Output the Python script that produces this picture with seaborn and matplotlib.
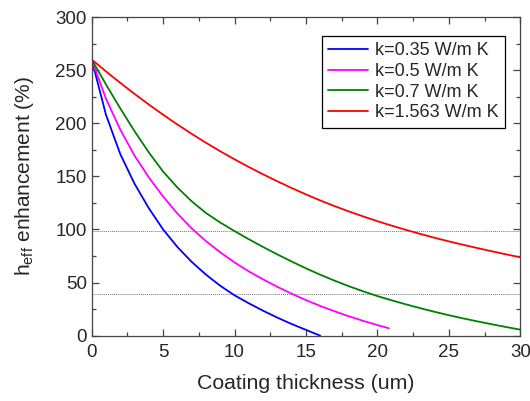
import matplotlib
matplotlib.use('Agg')
import matplotlib.pyplot as plt
import numpy as np
import pandas as pd
import seaborn as sns

# values
x_blue = [0, 1, 2, 3, 4, 5, 6, 7, 8, 9, 10, 11, 12, 13, 14, 15, 16]
y_blue = [260, 208, 171, 143, 120, 100, 83.5, 69.5, 57.5, 47, 38, 30.5, 23.5, 17, 11, 5.5, 0]

x_mag = [0, 1, 2, 3, 4, 5, 6, 7, 8, 9, 10, 11, 12, 13, 14, 15, 16, 17, 18, 19, 20, 20.8]
y_mag = [260, 223, 194, 169.5, 149, 131, 115, 101, 89, 78.5, 69, 60.5, 53, 46, 39.5, 33.5,
         28, 23, 18.3, 14, 10, 7]

x_grn = list(range(0, 31))
y_grn = [260, 236.5, 214, 192.5, 172.5, 154.5, 139.5, 126.5, 115.5, 106.5, 98.5, 90.8, 83.5,
         76.5, 69.8, 63.4, 57.4, 51.8, 46.6, 41.8, 37.3, 33.3, 29.5, 25.9, 22.5, 19.3,
         16.3, 13.5, 10.8, 8.2, 5.7]

x_red = list(range(0, 31))
y_red = [260, 248.8, 238, 227.6, 217.6, 208, 198.8, 190, 181.6, 173.6, 166, 158.8, 151.9,
         145.3, 139, 133, 127.3, 122, 117, 112.3, 107.8, 103.6, 99.6, 95.8, 92.2, 88.8,
         85.6, 82.5, 79.5, 76.6, 73.8]

labels = ['k=0.35 W/m K', 'k=0.5 W/m K', 'k=0.7 W/m K', 'k=1.563 W/m K']
colors = ['#0000ff', '#ff00ff', '#008000', '#ff0000']
ref_lines = [99, 39]

sns.set_style('ticks')
plt.rcParams['font.family'] = ['Liberation Sans', 'DejaVu Sans']
plt.rcParams['mathtext.fontset'] = 'custom'
plt.rcParams['mathtext.rm'] = 'Liberation Sans'

fig = plt.figure(figsize=(5.3, 4.01), dpi=100)
ax = fig.add_axes([0.173, 0.1628, 0.8087, 0.7948])

series = [(x_blue, y_blue), (x_mag, y_mag), (x_grn, y_grn), (x_red, y_red)]
for (xs, ys), lab, c in zip(series, labels, colors):
    d = pd.DataFrame({'x': xs, 'y': ys})
    sns.lineplot(data=d, x='x', y='y', color=c, label=lab, lw=1.3, ax=ax)

for yv in ref_lines:
    ax.axhline(yv, color='#777777', ls=(0, (1, 1)), lw=0.7, zorder=0)

ax.set_xlim(0, 30)
ax.set_ylim(0, 300)
ax.set_xticks([0, 5, 10, 15, 20, 25, 30])
ax.set_yticks([0, 50, 100, 150, 200, 250, 300])
ax.set_xticks(np.arange(2.5, 30, 5), minor=True)
ax.set_yticks(np.arange(25, 300, 50), minor=True)
ax.tick_params(which='both', direction='in', top=True, right=True,
               color='#444444', labelsize=13.5)
ax.tick_params(axis='x', pad=6)
ax.tick_params(which='major', length=5, width=0.9)
ax.tick_params(which='minor', length=3, width=0.9)
for s in ax.spines.values():
    s.set_color('#444444')
    s.set_linewidth(0.9)

ax.set_xlabel('Coating thickness (um)', fontsize=15.3, labelpad=9)
ax.set_ylabel(r'h$_{\mathregular{eff}}$ enhancement (%)', fontsize=15, labelpad=14)

leg = ax.legend(loc='upper right', bbox_to_anchor=(0.964, 0.94), borderaxespad=0,
                fontsize=13, fancybox=False, framealpha=1, edgecolor='black',
                handlelength=2.2, labelspacing=0.2, borderpad=0.35, handletextpad=0.4)
leg.get_frame().set_linewidth(0.9)

fig.savefig('out.png', dpi=100)
